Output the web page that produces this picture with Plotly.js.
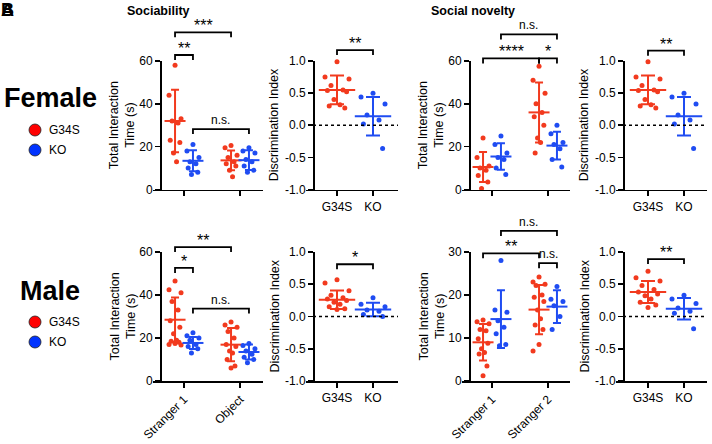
<!DOCTYPE html>
<html><head><meta charset="utf-8">
<script src="https://cdn.plot.ly/plotly-3.0.1.min.js"></script>
<style>html,body{margin:0;padding:0;background:#fff}#chart{width:712px;height:444px}</style>
</head><body><div id="chart"></div>
<script>
const RED = '#F23A1E', BLUE = '#1F4CF2';
const FONT = 'Liberation Sans, Arial, sans-serif';

// ---------- DATA ----------
const socCats = ['Stranger 1', 'Object'];
const novCats = ['Stranger 1', 'Stranger 2'];
const diCats = ['G34S', 'KO'];

// Female – sociability (total interaction time, s)
const fSocG34S_S1 = [58, 44, 33, 32, 31, 23, 22, 17, 13];
const fSocKO_S1 = [21, 18, 15, 13, 12, 10, 8, 7];
const fSocG34S_Obj = [20.5, 19.5, 16, 15, 13, 12, 11, 9, 6];
const fSocKO_Obj = [19.5, 18, 17, 14, 13, 11, 9, 8];
const fSocMeanG34S = [32, 13.6], fSocSdG34S = [14.6, 4.6];
const fSocMeanKO = [13.4, 13.7], fSocSdKO = [4.9, 4.6];

// Female – sociability discrimination index
const fSocDI_G34S = [0.99, 0.75, 0.72, 0.62, 0.55, 0.54, 0.52, 0.40, 0.32, 0.30, 0.27];
const fSocDI_KO = [0.50, 0.44, 0.33, 0.16, 0.08, 0.02, -0.36];
const fSocDIMean = [0.55, 0.14], fSocDISd = [0.225, 0.30];

// Female – social novelty (total interaction time, s)
const fNovG34S_S1 = [24, 15, 11, 10, 9, 6.5, 3.5, 0.5];
const fNovKO_S1 = [25, 21, 17, 15, 14, 10, 7];
const fNovG34S_S2 = [57.5, 51, 45, 40, 36, 34, 30, 24, 22, 17];
const fNovKO_S2 = [30, 26, 22, 21, 19, 14, 10.5];
const fNovMeanG34S = [10.5, 36], fNovSdG34S = [7, 14];
const fNovMeanKO = [15.4, 20.5], fNovSdKO = [6.2, 6.5];

// Female – social novelty discrimination index
const fNovDI_G34S = [0.99, 0.75, 0.72, 0.62, 0.55, 0.54, 0.52, 0.40, 0.32, 0.30, 0.27];
const fNovDI_KO = [0.50, 0.44, 0.33, 0.16, 0.08, 0.02, -0.36];
const fNovDIMean = [0.55, 0.14], fNovDISd = [0.225, 0.30];

// Male – sociability
const mSocG34S_S1 = [46.5, 42.5, 41, 37, 33, 28, 25, 22, 19, 18.5, 18, 17.5, 17, 16.8];
const mSocKO_S1 = [22.5, 21, 20, 19, 17, 16, 15, 13];
const mSocG34S_Obj = [27.5, 26, 25, 23, 20, 17, 16, 14, 13, 10, 7, 6];
const mSocKO_Obj = [17.5, 16.5, 15, 14, 12.5, 11, 10, 8.5];
const mSocMeanG34S = [28.5, 16.9], mSocSdG34S = [10.3, 7.7];
const mSocMeanKO = [17.7, 13.5], mSocSdKO = [2.8, 3.5];

// Male – sociability discrimination index
const mSocDI_G34S = [0.57, 0.52, 0.40, 0.33, 0.29, 0.27, 0.25, 0.22, 0.19, 0.15, 0.12, 0.11];
const mSocDI_KO = [0.29, 0.19, 0.15, 0.10, 0.08, 0.03, 0.0];
const mSocDIMean = [0.26, 0.11], mSocDISd = [0.145, 0.105];

// Male – social novelty
const mNovG34S_S1 = [14.2, 13.8, 13.3, 12, 11.7, 9.8, 8.8, 7.5, 6.6, 6.3, 3.5, 1.2];
const mNovKO_S1 = [28, 16.5, 16, 14, 12.5, 11, 8.5, 8.2];
const mNovG34S_S2 = [24.2, 23, 22.5, 22.2, 20, 19.5, 18.5, 16.5, 14.5, 13, 12, 8.5, 7];
const mNovKO_S2 = [22, 19, 18.5, 17.5, 15, 12];
const mNovMeanG34S = [9.0, 16.6], mNovSdG34S = [4.25, 5.7];
const mNovMeanKO = [14.4, 17.3], mNovSdKO = [6.7, 3.8];

// Male – social novelty discrimination index
const mNovDI_G34S = [0.70, 0.60, 0.55, 0.48, 0.42, 0.38, 0.35, 0.32, 0.27, 0.22, 0.18, 0.14];
const mNovDI_KO = [0.33, 0.27, 0.20, 0.13, 0.08, 0.05, -0.19];
const mNovDIMean = [0.38, 0.12], mNovDISd = [0.17, 0.165];

// Significance labels: [panel, fromCat, fromGroup, toCat, toGroup, level, label]
const sigBrackets = [
  [1, 1, 'G34S', 1, 'KO', 62.8, '**'],
  [1, 1, 'G34S', 2, 'G34S', 73.4, '***'],
  [1, 1, 'KO', 2, 'KO', 28.2, 'n.s.'],
  [2, 1, null, 2, null, 1.17, '**'],
  [3, 1, 'G34S', 2, 'G34S', 61.2, '****'],
  [3, 2, 'G34S', 2, 'KO', 61.2, '*'],
  [3, 1, 'KO', 2, 'KO', 72.4, 'n.s.'],
  [4, 1, null, 2, null, 1.16, '**'],
  [5, 1, 'G34S', 1, 'KO', 52.6, '*'],
  [5, 1, 'G34S', 2, 'G34S', 62.3, '**'],
  [5, 1, 'KO', 2, 'KO', 33.7, 'n.s.'],
  [6, 1, null, 2, null, 0.81, '*'],
  [7, 1, 'G34S', 2, 'G34S', 29.7, '**'],
  [7, 2, 'G34S', 2, 'KO', 27.4, 'n.s.'],
  [7, 1, 'KO', 2, 'KO', 34.9, 'n.s.'],
  [8, 1, null, 2, null, 0.89, '**']
];

// ---------- LAYOUT GEOMETRY (pixels) ----------
const W = 712, H = 444;
// [xLineStart, xLineEnd, yAxisX, cat1X, cat2X]
const colGeom = [
  [153, 263, 160, 184, 240],
  [306, 398, 313, 337, 373],
  [462, 570, 469, 492, 548],
  [616, 707, 623, 648, 684]
];
const rowGeom = [[189.5, 61], [381, 252]]; // [bottom px, top px]

const panels = [
  {kind: 'time', row: 0, col: 0, yr: [0, 60], ytv: [0, 20, 40, 60], cats: socCats, showX: false,
   groups: [[fSocG34S_S1, fSocG34S_Obj], [fSocKO_S1, fSocKO_Obj]], mean: [fSocMeanG34S, fSocMeanKO], sd: [fSocSdG34S, fSocSdKO]},
  {kind: 'di', row: 0, col: 1, data: [fSocDI_G34S, fSocDI_KO], mean: fSocDIMean, sd: fSocDISd},
  {kind: 'time', row: 0, col: 2, yr: [0, 60], ytv: [0, 20, 40, 60], cats: novCats, showX: false,
   groups: [[fNovG34S_S1, fNovG34S_S2], [fNovKO_S1, fNovKO_S2]], mean: [fNovMeanG34S, fNovMeanKO], sd: [fNovSdG34S, fNovSdKO]},
  {kind: 'di', row: 0, col: 3, data: [fNovDI_G34S, fNovDI_KO], mean: fNovDIMean, sd: fNovDISd},
  {kind: 'time', row: 1, col: 0, yr: [0, 60], ytv: [0, 20, 40, 60], cats: socCats, showX: true,
   groups: [[mSocG34S_S1, mSocG34S_Obj], [mSocKO_S1, mSocKO_Obj]], mean: [mSocMeanG34S, mSocMeanKO], sd: [mSocSdG34S, mSocSdKO]},
  {kind: 'di', row: 1, col: 1, data: [mSocDI_G34S, mSocDI_KO], mean: mSocDIMean, sd: mSocDISd},
  {kind: 'time', row: 1, col: 2, yr: [0, 30], ytv: [0, 10, 20, 30], cats: novCats, showX: true,
   groups: [[mNovG34S_S1, mNovG34S_S2], [mNovKO_S1, mNovKO_S2]], mean: [mNovMeanG34S, mNovMeanKO], sd: [mNovSdG34S, mNovSdKO]},
  {kind: 'di', row: 1, col: 3, data: [mNovDI_G34S, mNovDI_KO], mean: mNovDIMean, sd: mNovDISd}
];

const jitterPattern = [0, -1, 1, -0.5, 0.5, -0.8, 0.8, -0.25, 0.25, -0.65, 0.65];
const colors = [RED, BLUE];
const GROUP_OFF = 0.16;

const traces = [];
const layout = {
  width: W, height: H, margin: {l: 0, r: 0, t: 0, b: 0},
  paper_bgcolor: '#fff', plot_bgcolor: 'rgba(0,0,0,0)', showlegend: false,
  font: {family: FONT, size: 12, color: '#000'},
  shapes: [], annotations: []
};

panels.forEach((p, i) => {
  const n = i + 1;
  const xs = n === 1 ? '' : String(n);
  const g = colGeom[p.col], r = rowGeom[p.row];
  const unit = g[4] - g[3];
  const xr = [1 - (g[3] - g[0]) / unit, 2 + (g[1] - g[4]) / unit];
  p.xr = xr; p.xd = [g[0] / W, g[1] / W];
  p.yd = [1 - r[0] / H, 1 - r[1] / H];
  if (p.kind === 'di') { p.yr = [-1, 1]; p.ytv = [-1, -0.5, 0, 0.5, 1]; }
  p.yAxisPx = g[2];
  const showTickLabels = p.kind === 'di' || p.showX;
  layout['xaxis' + xs] = {
    domain: p.xd, range: xr, anchor: 'y' + xs, fixedrange: true,
    showline: true, linecolor: '#000', linewidth: 1.6, mirror: false,
    ticks: 'outside', ticklen: 5, tickwidth: 1.6, tickcolor: '#000',
    tickmode: 'array', tickvals: [1, 2],
    ticktext: p.kind === 'di' ? diCats : (showTickLabels ? p.cats : ['', '']),
    tickangle: p.kind === 'di' ? 0 : -45,
    showgrid: false, zeroline: false, tickfont: {family: FONT, size: 12, color: '#000'}
  };
  layout['yaxis' + xs] = {
    domain: p.yd, range: p.yr, anchor: 'free', position: g[2] / W, fixedrange: true,
    showline: true, linecolor: '#000', linewidth: 1.6,
    ticks: 'outside', ticklen: 5, tickwidth: 1.6, tickcolor: '#000',
    tickmode: 'array', tickvals: p.ytv,
    ticktext: p.kind === 'di' ? p.ytv.map(v => v.toFixed(1)) : p.ytv.map(String),
    showgrid: false, zeroline: false, tickfont: {family: FONT, size: 12, color: '#000'}
  };
  const xa = 'x' + xs, ya = 'y' + xs;
  if (p.kind === 'time') {
    const jw = 6 / unit;
    for (let gi = 0; gi < 2; gi++) {
      for (let ci = 0; ci < 2; ci++) {
        const vals = p.groups[gi][ci];
        const cx = ci + 1 + (gi === 0 ? -GROUP_OFF : GROUP_OFF);
        traces.push({type: 'scatter', mode: 'markers', xaxis: xa, yaxis: ya, cliponaxis: false,
          x: vals.map((v, k) => cx + jitterPattern[k % jitterPattern.length] * jw), y: vals,
          marker: {size: 5, color: colors[gi]}, hoverinfo: 'skip'});
      }
      traces.push({type: 'scatter', mode: 'markers', xaxis: xa, yaxis: ya, cliponaxis: false,
        x: [1 + (gi === 0 ? -GROUP_OFF : GROUP_OFF), 2 + (gi === 0 ? -GROUP_OFF : GROUP_OFF)],
        y: p.mean[gi],
        marker: {symbol: 'line-ew', size: 15, color: colors[gi], line: {width: 2, color: colors[gi]}},
        error_y: {type: 'data', array: p.sd[gi], visible: true, color: colors[gi], thickness: 2, width: 4},
        hoverinfo: 'skip'});
    }
  } else {
    const jw = 12 / unit;
    for (let gi = 0; gi < 2; gi++) {
      const vals = p.data[gi];
      traces.push({type: 'scatter', mode: 'markers', xaxis: xa, yaxis: ya, cliponaxis: false,
        x: vals.map((v, k) => gi + 1 + jitterPattern[k % jitterPattern.length] * jw), y: vals,
        marker: {size: 5, color: colors[gi]}, hoverinfo: 'skip'});
      traces.push({type: 'scatter', mode: 'markers', xaxis: xa, yaxis: ya, cliponaxis: false,
        x: [gi + 1], y: [p.mean[gi]],
        marker: {symbol: 'line-ew', size: 26, color: colors[gi], line: {width: 2, color: colors[gi]}},
        error_y: {type: 'data', array: [p.sd[gi]], visible: true, color: colors[gi], thickness: 2, width: 7},
        hoverinfo: 'skip'});
    }
    // dotted zero line
    const y0 = p.yd[0] + (0 - p.yr[0]) / (p.yr[1] - p.yr[0]) * (p.yd[1] - p.yd[0]);
    layout.shapes.push({type: 'line', xref: 'paper', yref: 'paper', x0: g[2] / W, x1: g[1] / W, y0: y0, y1: y0,
      line: {color: '#000', width: 1.3, dash: 'dot'}});
  }
  // y-axis title
  const ttl = p.kind === 'di' ? 'Discrimination Index' : 'Total Interaction<br>Time (s)';
  layout.annotations.push({xref: 'paper', yref: 'paper', x: (g[2] - (p.kind === 'di' ? 39 : 38)) / W,
    y: (p.yd[0] + p.yd[1]) / 2, text: ttl, textangle: -90, showarrow: false,
    xanchor: 'center', yanchor: 'middle', font: {family: FONT, size: 12.5, color: '#000'}});
});

function toPX(p, v) { return p.xd[0] + (v - p.xr[0]) / (p.xr[1] - p.xr[0]) * (p.xd[1] - p.xd[0]); }
function toPY(p, v) { return p.yd[0] + (v - p.yr[0]) / (p.yr[1] - p.yr[0]) * (p.yd[1] - p.yd[0]); }

sigBrackets.forEach(b => {
  const p = panels[b[0] - 1];
  const off = g => g === null ? 0 : (g === 'G34S' ? -GROUP_OFF : GROUP_OFF);
  const x0 = toPX(p, b[1] + off(b[2])), x1 = toPX(p, b[3] + off(b[4]));
  const y = toPY(p, b[5]);
  const leg = 5 / H;
  layout.shapes.push({type: 'path', xref: 'paper', yref: 'paper',
    path: `M${x0},${y - leg} L${x0},${y} L${x1},${y} L${x1},${y - leg}`,
    line: {color: '#000', width: 1.8}});
  const isStar = b[6].indexOf('*') === 0;
  layout.annotations.push({xref: 'paper', yref: 'paper', x: (x0 + x1) / 2, y: y,
    text: b[6], showarrow: false, xanchor: 'center', yanchor: 'bottom',
    yshift: isStar ? -4 : 0,
    font: {family: FONT, size: isStar ? 16 : 12, color: '#000'}});
});

// Section titles
function ann(text, px, py, opts) {
  layout.annotations.push(Object.assign({xref: 'paper', yref: 'paper', x: px / W, y: 1 - py / H,
    text: text, showarrow: false, font: {family: FONT, size: 12, color: '#000'}}, opts || {}));
}
ann('<b>Sociability</b>', 125, 11, {xanchor: 'left', yanchor: 'middle', font: {family: FONT, size: 12.5, color: '#000'}});
ann('<b>Social novelty</b>', 429, 11, {xanchor: 'left', yanchor: 'middle', font: {family: FONT, size: 12.5, color: '#000'}});
ann('<b>B</b>', -1, 10, {xanchor: 'left', yanchor: 'middle', font: {family: FONT, size: 18, color: '#000'}});
ann('<b>A</b>', -1, 10, {xanchor: 'left', yanchor: 'middle', font: {family: FONT, size: 18, color: '#000'}});
ann('<b>Female</b>', 50, 98, {xanchor: 'center', yanchor: 'middle', font: {family: FONT, size: 27, color: '#000'}});
ann('<b>Male</b>', 50, 291, {xanchor: 'center', yanchor: 'middle', font: {family: FONT, size: 27, color: '#000'}});

const legendRows = [[130, 150], [322, 342]];
legendRows.forEach(rowY => {
  [['G34S', '#FF0000'], ['KO', '#0033FF']].forEach((it, k) => {
    layout.shapes.push({type: 'circle', xref: 'paper', yref: 'paper', xsizemode: 'pixel', ysizemode: 'pixel',
      xanchor: 35 / W, yanchor: 1 - rowY[k] / H, x0: -6, x1: 6, y0: -6, y1: 6,
      fillcolor: it[1], line: {color: '#222', width: 0.8}});
    ann(it[0], 47, rowY[k], {xanchor: 'left', yanchor: 'middle', font: {family: FONT, size: 12, color: '#000'}});
  });
});

Plotly.newPlot('chart', traces, layout, {staticPlot: true, displayModeBar: false});
</script>
</body></html>
